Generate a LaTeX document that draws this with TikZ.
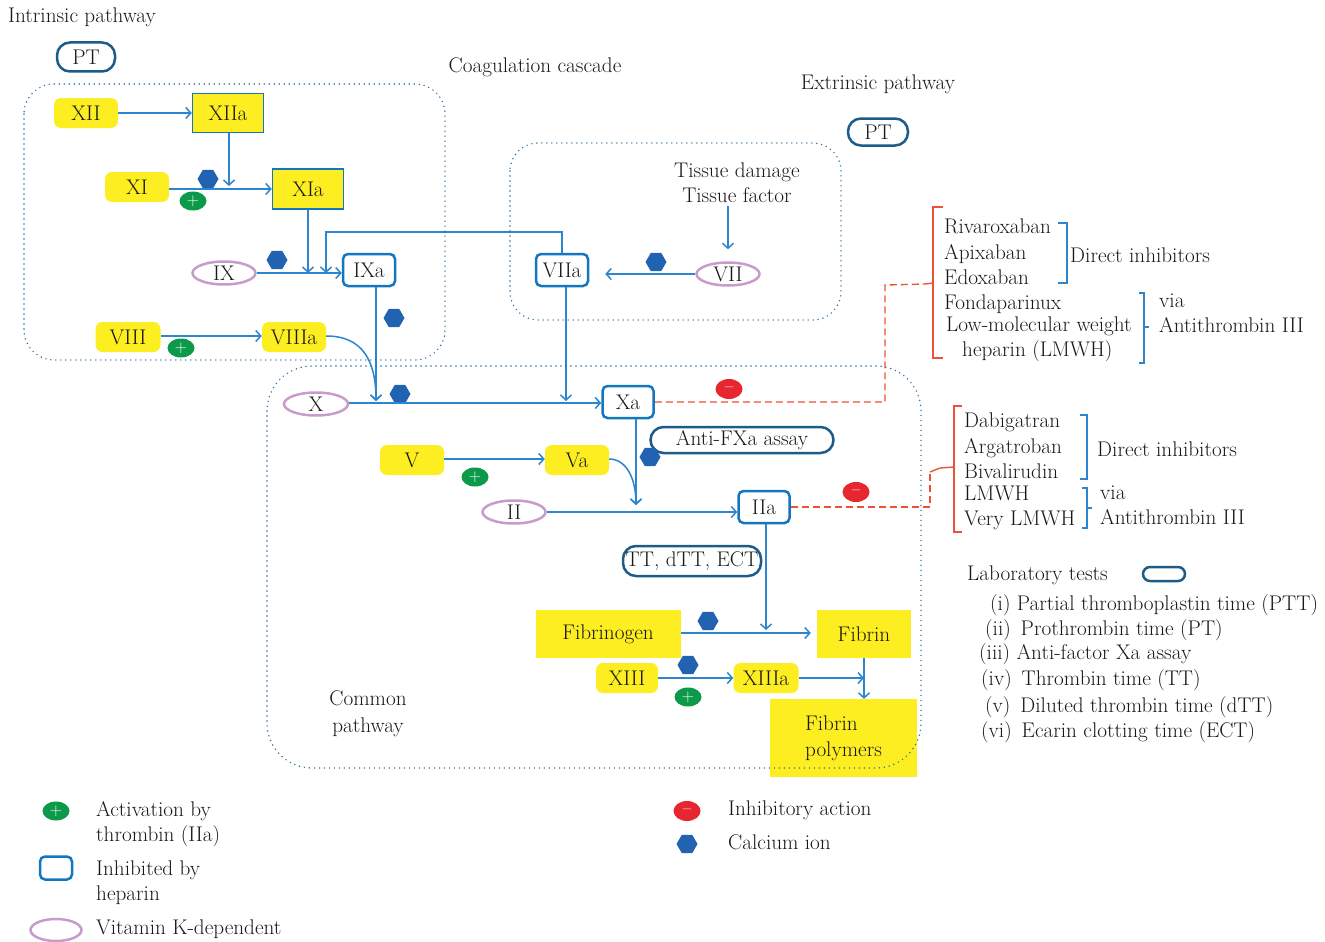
\documentclass[tikz,border=0pt]{standalone}
\usetikzlibrary{shapes.geometric,arrows.meta}
\definecolor{yel}{HTML}{FCEE21}
\definecolor{lblue}{HTML}{2B86CF}
\definecolor{bblue}{HTML}{1476BE}
\definecolor{dblue}{HTML}{1D5C88}
\definecolor{pinkc}{HTML}{C99BCB}
\definecolor{hexc}{HTML}{2163B0}
\definecolor{grn}{HTML}{0C9A4A}
\definecolor{redc}{HTML}{E8262F}
\definecolor{redd}{HTML}{EE5236}
\definecolor{dotc}{HTML}{2F6F9F}
\definecolor{txt}{HTML}{1A1718}
\tikzset{
  yround/.style={fill=yel, rounded corners=7pt, minimum width=64pt, minimum height=30pt, inner sep=0pt},
  yrect/.style={fill=yel, draw=bblue, line width=1.5pt, minimum width=71pt, minimum height=39pt, inner sep=0pt},
  ysq/.style={fill=yel, inner sep=0pt},
  inh/.style={draw=bblue, line width=2.5pt, rounded corners=5pt, fill=white, minimum width=52pt, minimum height=32pt, inner sep=0pt},
  vitk/.style={ellipse, draw=pinkc, line width=2.5pt, fill=white, minimum width=63pt, minimum height=23pt, inner sep=0pt},
  lab/.style={draw=dblue, line width=2.5pt, rounded corners=13pt, fill=white, inner sep=0pt},
  flow/.style={draw=lblue, line width=1.5pt, -{Straight Barb[length=5pt,width=11pt]}},
  conn/.style={draw=lblue, line width=1.5pt},
  hexa/.style={regular polygon, regular polygon sides=6, fill=hexc, minimum size=21pt, inner sep=0pt},
  plusc/.style={ellipse, fill=grn, minimum width=27pt, minimum height=19pt, inner sep=0pt, text=white, font=\fontsize{17}{17}\selectfont},
  minusc/.style={ellipse, fill=redc, minimum width=27pt, minimum height=20pt, inner sep=0pt, text=white, font=\fontsize{15}{15}\selectfont\bfseries},
  dotbox/.style={draw=dotc, line width=1.6pt, dash pattern=on 0pt off 5pt, line cap=round},
  reddash/.style={draw=redd, line width=1.4pt, dash pattern=on 7pt off 4pt},
  redbr/.style={draw=redd, line width=1.4pt},
  bluebr/.style={draw=lblue, line width=1.5pt},
  tl/.style={anchor=west, inner sep=0pt, text height=15pt, text depth=4.5pt},
  tc/.style={inner sep=0pt, text height=15pt, text depth=4.5pt}
}
\begin{document}
\begin{tikzpicture}[x=1pt,y=-1pt, font=\fontsize{21.2}{25}\selectfont, text=txt]
\useasboundingbox (0,0) rectangle (1325,942);

% titles
\node[tl] (ti1) at (8,17) {Intrinsic pathway};
\node[tc] (ti2) at (535,67) {Coagulation cascade};
\node[tc] (ti3) at (878,84) {Extrinsic pathway};
\node[lab, minimum width=58pt, minimum height=29pt] (pt1) at (86,57) {PT};
\node[lab, minimum width=60pt, minimum height=27pt] (pt2) at (878,132) {PT};

% intrinsic
\node[yround] (xii) at (86,113) {XII};
\node[yrect] (xiia) at (228,113) {XIIa};
\node[yround] (xi) at (137,187) {XI};
\node[yrect, minimum height=40pt] (xia) at (308,189) {XIa};
\node[vitk] (ix) at (224,273) {IX};
\node[inh] (ixa) at (369,270) {IXa};
\node[yround, minimum width=65pt] (viii) at (128,337) {VIII};
\node[yround] (viiia) at (294,337) {VIIIa};

% extrinsic
\node[align=center, font=\fontsize{21.2}{25}\selectfont] (tissue) at (737,182.5) {Tissue damage\\Tissue factor};
\node[vitk] (vii) at (728,274) {VII};
\node[inh] (viia) at (562,270) {VIIa};

% common
\node[vitk, minimum width=64pt] (x) at (316,404) {X};
\node[inh, minimum width=51pt] (xa) at (628,402) {Xa};
\node[lab, minimum width=183pt, minimum height=26pt] (antifxa) at (742,440) {Anti-FXa assay};
\node[yround] (v) at (412,460) {V};
\node[yround] (va) at (577,460) {Va};
\node[vitk] (ii) at (514,512) {II};
\node[inh, minimum width=51pt] (iia) at (764,507) {IIa};
\node[lab, minimum width=138pt, minimum height=30pt] (tt) at (692,561) {TT, dTT, ECT};
\node[ysq, minimum width=145pt, minimum height=48pt] (fibrinogen) at (608,634) {Fibrinogen};
\node[ysq, minimum width=94pt, minimum height=48pt] (fibrin) at (864,634) {Fibrin};
\node[yround, minimum width=62pt] (xiii) at (627,678) {XIII};
\node[yround, minimum width=65pt] (xiiia) at (766,678) {XIIIa};
\node[ysq, minimum width=147pt, minimum height=78pt, align=left, font=\fontsize{21.2}{26}\selectfont] (poly) at (843.5,738) {Fibrin\\polymers};
\node[align=center, font=\fontsize{21.2}{27}\selectfont] (common) at (368,713.5) {Common\\pathway};

% calcium ions, plus, minus
\node[hexa] (h1) at (208,179) {};
\node[hexa] (h2) at (277,260) {};
\node[hexa] (h3) at (394,318) {};
\node[hexa] (h4) at (656,262) {};
\node[hexa] (h5) at (400,394) {};
\node[hexa] (h6) at (650,457) {};
\node[hexa] (h7) at (708,621) {};
\node[hexa] (h8) at (688,665) {};
\node[plusc] (p1) at (193,201) {+};
\node[plusc] (p2) at (181,348) {+};
\node[plusc] (p3) at (475,477) {+};
\node[plusc] (p4) at (688,697) {+};
\node[minusc] (m1) at (729,389) {--};
\node[minusc] (m2) at (856,492) {--};

% coordinates for junctions
\coordinate (j1) at (229,186);
\coordinate (k1) at (326,232);
\coordinate (xin) at (376,401);
\coordinate (xin2) at (566,401);
\coordinate (iin) at (636,505);
\coordinate (fin) at (766,630);

% intrinsic arrows
\draw[flow] (xii) -- (xiia);
\draw[flow] (xiia.south -| j1) -- (j1);
\draw[flow] (xi.east |- xia) -- (xia.west);
\draw[flow] (xia.south) -- (xia.south |- ix);
\draw[flow] (ix.east) -- (ix.east -| ixa.west);
\draw[flow] (viia.north) |- (k1) -- (k1 |- ix);
\draw[flow] (viii.east |- 0,336) -- (viiia.west |- 0,336);
\draw[flow] (ixa.south -| xin) -- (xin);
\draw[flow] (viiia.east |- 0,336) .. controls (362,336) and (376,360) .. (xin);

% extrinsic arrows
\draw[flow, shorten >=12pt] (vii.north |- tissue.south) -- (vii.north);
\draw[flow, shorten >=16pt] (vii.west) -- (vii.west -| viia.east);
\draw[flow] (viia.south -| xin2) -- (xin2);

% common arrows
\draw[flow] (x.east |- 0,403) -- (xa.west |- 0,403);
\draw[flow] (xa.south -| iin) -- (iin);
\draw[flow] (v.east |- 0,459) -- (va.west |- 0,459);
\draw[flow] (va.east |- 0,459) .. controls (626,459) and (636,478) .. (iin);
\draw[flow] (ii.east) -- (ii.east -| iia.west);
\draw[flow] (iia.south -| fin) -- (fin);
\draw[flow, shorten >=6pt] (fibrinogen.east |- 0,633) -- (fibrin.west |- 0,633);
\draw[flow] (xiii.east) -- (xiiia.west);
\draw[flow] (xiiia.east) -- (xiiia.east -| fibrin.south);
\draw[flow] (fibrin.south) -- (fibrin.south |- poly.north);

% inhibitors to Xa
\coordinate (r1) at (885,285);
\coordinate (b1) at (933,283);
\draw[reddash] (xa.east) -| (r1) -- (925,284);
\draw[redbr] (925,284) -- (b1);
\draw[redbr] (943,207) -- (933,207) -- (933,358) -- (943,358);
\node[tl] (n1) at (944,228) {Rivaroxaban};
\node[tl] (n2) at (944,254) {Apixaban};
\node[tl] (n3) at (944,279) {Edoxaban};
\node[tl] (n4) at (944,304) {Fondaparinux};
\node[tl] (n5) at (946,326) {Low-molecular weight};
\node[tl] (n6) at (962,351) {heparin (LMWH)};
\draw[bluebr] (1058,223) -- (1067,223) -- (1067,283) -- (1058,283);
\node[tl] (n7) at (1070,257) {Direct inhibitors};
\draw[bluebr] (1139,293) -- (1144,293) -- (1144,363) -- (1139,363);
\draw[bluebr] (1144,327) -- (1149,327);
\node[tl] (n8) at (1159,302) {via};
\node[tl] (n9) at (1159,327) {Antithrombin III};

% inhibitors to IIa
\coordinate (r2) at (930,472);
\coordinate (b2) at (954,467);
\draw[reddash] (iia.east) -| (r2);
\draw[redbr] (r2) -- (940,468) -- (b2);
\draw[redbr] (962,406) -- (954,406) -- (954,532) -- (962,532);
\node[tl] (d1) at (964,422) {Dabigatran};
\node[tl] (d2) at (964,448) {Argatroban};
\node[tl] (d3) at (964,473) {Bivalirudin};
\node[tl] (d4) at (964,495) {LMWH};
\node[tl] (d5) at (964,520) {Very LMWH};
\draw[bluebr] (1080,415) -- (1087,415) -- (1087,479) -- (1080,479);
\node[tl] (d6) at (1097,451) {Direct inhibitors};
\draw[bluebr] (1082,488) -- (1087,488) -- (1087,528) -- (1082,528);
\draw[bluebr] (1087,508) -- (1092,508);
\node[tl] (d7) at (1100,494) {via};
\node[tl] (d8) at (1100,519) {Antithrombin III};

% laboratory tests
\node[tl] (lt) at (967,575) {Laboratory tests};
\node[draw=dblue, line width=2.5pt, rounded corners=7pt, minimum width=42pt, minimum height=14pt, inner sep=0pt] (ltk) at (1164,574) {};
\node[tl] (l1) at (990,605) {(i) Partial thromboplastin time (PTT)};
\node[tl] (l2) at (985,630) {(ii)\ \,Prothrombin time (PT)};
\node[tl] (l3) at (979,654) {(iii) Anti-factor Xa assay};
\node[tl] (l4) at (981,680) {(iv)\ \,Thrombin time (TT)};
\node[tl] (l5) at (985,707) {(v)\ \,Diluted thrombin time (dTT)};
\node[tl] (l6) at (981,732) {(vi)\ \,Ecarin clotting time (ECT)};

% legend
\node[plusc] (lp) at (56,811) {+};
\node[tl] (lp1) at (96,811) {Activation by};
\node[tl] (lp2) at (96,836) {thrombin (IIa)};
\node[inh, minimum width=32pt, minimum height=23pt] (li) at (56,868) {};
\node[tl] (li1) at (96,870) {Inhibited by};
\node[tl] (li2) at (96,895) {heparin};
\node[vitk, minimum width=51pt, minimum height=22pt] (lv) at (56,930) {};
\node[tl] (lv1) at (96,929) {Vitamin K-dependent};
\node[minusc] (lm) at (687,811) {--};
\node[tl] (lm1) at (728,810) {Inhibitory action};
\node[hexa] (lh) at (687,844) {};
\node[tl] (lh1) at (728,844) {Calcium ion};

% dotted pathway regions
\draw[dotbox, rounded corners=30pt] (24,84) rectangle (445,360);
\draw[dotbox, rounded corners=28pt] (510,143) rectangle (841,320);
\draw[dotbox, rounded corners=45pt] (267,366) rectangle (921,768);
\end{tikzpicture}
\end{document}
